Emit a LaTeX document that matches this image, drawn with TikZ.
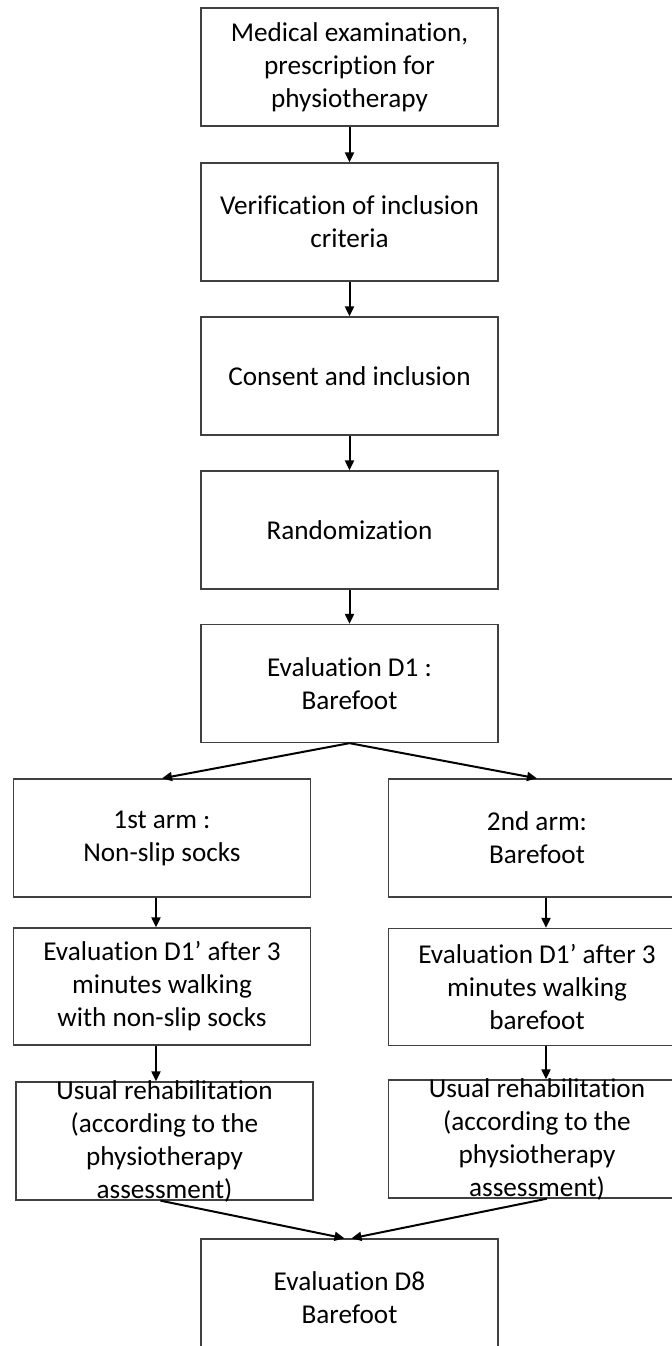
\documentclass[tikz,border=0pt]{standalone}
\usepackage{fontspec}
\setmainfont{Carlito}[Ligatures=NoCommon]
\usetikzlibrary{arrows.meta}
\definecolor{boxline}{RGB}{64,64,64}

\begin{document}
\begin{tikzpicture}[x=0.5pt,y=-0.5pt,
  font=\fontsize{13.6}{16.5}\selectfont,
  box/.style={draw=boxline,line width=0.65pt,minimum width=148.5pt,minimum height=59pt,align=center,inner sep=0pt},
  arr/.style={line width=1pt,-{Triangle[length=5pt,width=4.5pt]}}]
\useasboundingbox (0,0) rectangle (671,1346);
\node[box] (med) at (349.5,67) {Medical examination,\\ prescription for\\ physiotherapy};
\node[box] (verif) at (349.5,222) {Verification of inclusion\\ criteria};
\node[box] (consent) at (349.5,376) {Consent and inclusion};
\node[box] (random) at (349.5,530) {Randomization};
\node[box] (evalA) at (349.5,683.5) {Evaluation D1 :\\ Barefoot};
\node[box] (arm1) at (162,838) {1st arm :\\ Non-slip socks};
\node[box] (arm2) at (537,838) {2nd arm:\\ Barefoot};
\node[box,minimum height=58.5pt] (evL) at (162,986.5) {Evaluation D1’ after 3\\ minutes walking\\ with non-slip socks};
\node[box,minimum height=58.5pt] (evR) at (537,987) {Evaluation D1’ after 3\\ minutes walking\\ barefoot};
\node[box,inner ysep=-2pt] (rehabL) at (164.5,1141) {Usual rehabilitation\\ (according to the\\ physiotherapy\\ assessment)};
\node[box,inner ysep=-2pt] (rehabR) at (537,1139) {Usual rehabilitation\\ (according to the\\ physiotherapy\\ assessment)};
\node[box] (dEight) at (349.5,1298) {Evaluation D8\\ Barefoot};
\draw[arr] (med) -- (verif);
\draw[arr] (verif) -- (consent);
\draw[arr] (consent) -- (random);
\draw[arr] (random) -- (evalA);
\draw[arr] (evalA.south) -- (arm1.north);
\draw[arr] (evalA.south) -- (arm2.north);
\draw[arr] ([xshift=-3pt]arm1.south) -- ([xshift=-3pt]evL.north);
\draw[arr] ([xshift=4.5pt]arm2.south) -- ([xshift=4.5pt]evR.north);
\draw[arr] ([xshift=-3pt]evL.south) -- ([xshift=-3pt]evL.south |- rehabL.north);
\draw[arr] ([xshift=4.5pt]evR.south) -- ([xshift=4.5pt]rehabR.north);
\draw[arr] ([xshift=-2pt]rehabL.south) -- ([xshift=-2.5pt]dEight.north);
\draw[arr] ([xshift=5pt]rehabR.south) -- ([xshift=1pt]dEight.north);
\end{tikzpicture}
\end{document}
